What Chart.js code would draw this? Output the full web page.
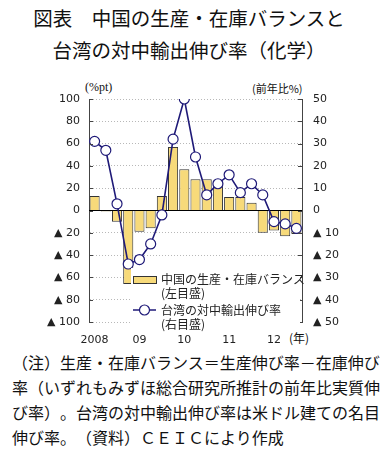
<!DOCTYPE html>
<html>
<head>
<meta charset="utf-8">
<script src="https://cdn.jsdelivr.net/npm/chart.js@4.4.0/dist/chart.umd.min.js"></script>
<style>
  body { margin: 0; background: #fff; width: 389px; height: 456px; position: relative; overflow: hidden;
         font-family: "Noto Sans CJK JP", sans-serif; color: #111; text-spacing-trim: space-all; }
  .title { position: absolute; left: 0; top: 2px; width: 378px; text-align: center; font-size: 19.5px; line-height: 32px; }
  .unit { position: absolute; font-size: 11px; line-height: 14px; }
  .note { position: absolute; left: 12px; top: 350px; font-size: 16px; line-height: 25px; white-space: nowrap; }
  #chartWrap { position: absolute; left: 0; top: 80px; }
</style>
</head>
<body>
<div class="title">図表　中国の生産・在庫バランスと<br>台湾の対中輸出伸び率（化学）</div>
<div class="unit" style="left:85px; top:80px; font-family:'Liberation Serif', serif; font-size:12px;">(%pt)</div>
<div class="unit" style="left:252px; top:81px;">(前年比%)</div>
<div class="unit" style="left:289px; top:331px; font-size:12px;">(年)</div>
<div class="note">（注）生産・在庫バランス＝生産伸び率－在庫伸び<br>率（いずれもみずほ総合研究所推計の前年比実質伸<br>び率）。台湾の対中輸出伸び率は米ドル建ての名目<br>伸び率。（資料）ＣＥＩＣにより作成</div>
<div id="chartWrap"><canvas id="chart" width="389" height="275"></canvas></div>
<script>
// 2008Q1 - 2012Q3, quarterly
let quarters = ['08Q1','08Q2','08Q3','08Q4','09Q1','09Q2','09Q3','09Q4','10Q1','10Q2','10Q3','10Q4',
                '11Q1','11Q2','11Q3','11Q4','12Q1','12Q2','12Q3'];
let yearLabels = ['2008', '09', '10', '11', '12'];
// 中国の生産・在庫バランス (%pt, left axis)
let balance = [13, -1, -10, -66, -19, -16, 13, 57, 37, 28, 28, 27, 12, 12, 7, -20, -18, -23, -21];
// 台湾の対中輸出伸び率 (前年比%, right axis)
let exportsTw = [31, 27, 3, -24, -22, -15, -2, 32, 50, 24, 7, 12, 16, 8, 12, 7, -5, -6, -8];

let leftTicks = [100, 80, 60, 40, 20, 0, -20, -40, -60, -80, -100];
let rightTicks = [50, 40, 30, 20, 10, 0, -10, -20, -30, -40, -50];

let navy = '#1f1a78';
let tickFont = { family: 'DejaVu Sans', size: 11 };

let fmtTick = (v) => v < 0 ? '▲ ' + (-v) : '' + v;

// zero line, inner tick marks and the legend box
let extras = {
    id: 'extras',
    beforeDatasetsDraw(chart) {
        let ctx = chart.ctx, a = chart.chartArea;
        let y0 = chart.scales.y.getPixelForValue(0);
        ctx.save();
        ctx.strokeStyle = '#000';
        ctx.lineWidth = 1.2;
        ctx.beginPath();
        ctx.moveTo(a.left, y0);
        ctx.lineTo(a.right, y0);
        ctx.stroke();
        ctx.restore();
    },
    afterDraw(chart) {
        let ctx = chart.ctx, a = chart.chartArea;
        ctx.save();
        ctx.strokeStyle = '#444';
        ctx.lineWidth = 1;
        leftTicks.forEach(v => {
            let y = Math.round(chart.scales.y.getPixelForValue(v)) + 0.5;
            ctx.beginPath(); ctx.moveTo(a.left, y); ctx.lineTo(a.left + 4, y); ctx.stroke();
        });
        rightTicks.forEach(v => {
            let y = Math.round(chart.scales.y1.getPixelForValue(v)) + 0.5;
            ctx.beginPath(); ctx.moveTo(a.right - 4, y); ctx.lineTo(a.right, y); ctx.stroke();
        });

        // legend
        ctx.fillStyle = '#fff';
        ctx.fillRect(131, 188, 169, 62);
        ctx.fillStyle = '#f7da7a';
        ctx.fillRect(133, 196, 23, 7);
        ctx.strokeStyle = '#333';
        ctx.strokeRect(133.5, 196.5, 23, 7);
        ctx.strokeStyle = navy;
        ctx.lineWidth = 1.5;
        ctx.beginPath(); ctx.moveTo(133, 230); ctx.lineTo(156, 230); ctx.stroke();
        ctx.beginPath(); ctx.arc(144.5, 230, 5, 0, Math.PI * 2);
        ctx.fillStyle = '#fff'; ctx.fill();
        ctx.lineWidth = 1.2; ctx.stroke();

        ctx.fillStyle = '#222';
        ctx.font = '12px "Noto Sans CJK JP"';
        ctx.textBaseline = 'middle';
        ctx.fillText('中国の生産・在庫バランス', 161, 199);
        ctx.fillText('(左目盛)', 161, 213);
        ctx.fillText('台湾の対中輸出伸び率', 161, 230);
        ctx.fillText('(右目盛)', 161, 244);
        ctx.restore();
    }
};

let chart = new Chart(document.getElementById('chart').getContext('2d'), {
    type: 'bar',
    data: {
        labels: quarters,
        datasets: [{
            type: 'line',
            label: '台湾の対中輸出伸び率',
            data: exportsTw,
            yAxisID: 'y1',
            order: 0,
            borderColor: navy,
            borderWidth: 1.6,
            tension: 0,
            pointRadius: 5,
            pointBackgroundColor: '#fff',
            pointBorderColor: navy,
            pointBorderWidth: 1.2
        }, {
            label: '中国の生産・在庫バランス',
            data: balance,
            yAxisID: 'y',
            order: 1,
            backgroundColor: '#f7da7a',
            borderColor: '#333',
            borderWidth: 1,
            barPercentage: 0.9,
            categoryPercentage: 1
        }]
    },
    options: {
        responsive: false,
        animation: false,
        layout: { padding: { top: 19, left: 0, right: 0, bottom: 0 } },
        plugins: { legend: { display: false }, tooltip: { enabled: false } },
        scales: {
            x: {
                grid: { display: false, drawTicks: false },
                border: { display: false },
                ticks: {
                    autoSkip: false, maxRotation: 0, padding: 12, color: '#222', font: tickFont,
                    callback: (v, i) => i % 4 === 0 ? yearLabels[i / 4] : ''
                },
                afterFit: (s) => { s.height = 33; }
            },
            y: {
                position: 'left',
                min: -100, max: 100,
                afterBuildTicks: (s) => { s.ticks = leftTicks.map(v => ({ value: v })); },
                grid: { color: '#b8b8b8', lineWidth: 1, drawTicks: false },
                border: { display: true, color: '#444', width: 1, dash: [1, 2] },
                ticks: { padding: 9, color: '#222', font: tickFont, callback: fmtTick },
                afterFit: (s) => { s.width = 89; }
            },
            y1: {
                position: 'right',
                min: -50, max: 50,
                afterBuildTicks: (s) => { s.ticks = rightTicks.map(v => ({ value: v })); },
                grid: { drawOnChartArea: false, drawTicks: false },
                border: { display: true, color: '#444', width: 1 },
                ticks: { padding: 11, color: '#222', font: tickFont, callback: fmtTick },
                afterFit: (s) => { s.width = 87; }
            }
        }
    },
    plugins: [extras]
});
</script>
</body>
</html>
